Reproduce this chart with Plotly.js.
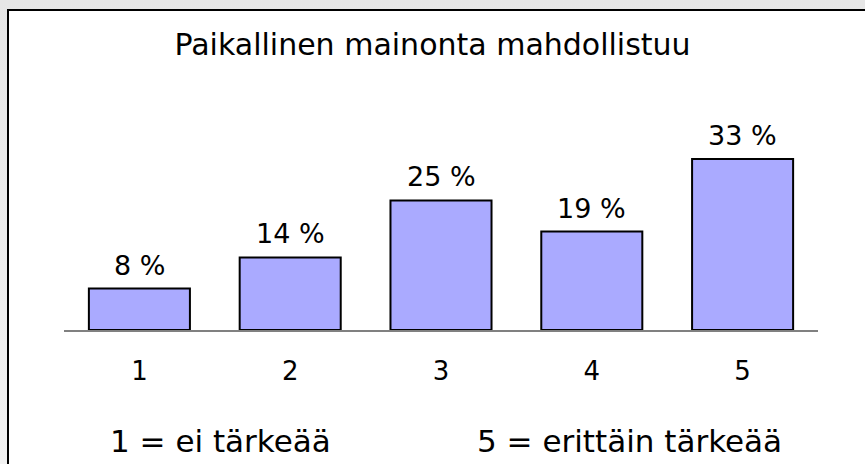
<!DOCTYPE html>
<html>
<head>
<meta charset="utf-8">
<script src="https://cdn.plot.ly/plotly-3.0.1.min.js"></script>
<style>
  html, body { margin: 0; padding: 0; }
  body { width: 865px; height: 464px; background: linear-gradient(#e6e6e6, #f2f2f2); position: relative; overflow: hidden; }
  #frame { position: absolute; left: 7px; top: 9px; width: 856px; height: 453px; border-top: 2px solid #000; border-left: 2px solid #000; background: #fff; }
  #chart { width: 856px; height: 453px; }
</style>
</head>
<body>
<div id="frame"><div id="chart"></div></div>
<script>
const categories = ['1', '2', '3', '4', '5'];
const values = [8, 14, 25, 19, 33];
const valueLabels = values.map(v => v + ' %');
const titleText = 'Paikallinen mainonta mahdollistuu';
const footerLeft = '1 = ei tärkeää';
const footerRight = '5 = erittäin tärkeää';

const font = 'DejaVu Sans, Verdana, sans-serif';

const trace = {
  type: 'bar',
  x: categories,
  y: values,
  width: 0.67,
  marker: { color: '#aaaaff', line: { color: '#000', width: 2 } },
  hoverinfo: 'none'
};

const annotations = categories.map((c, i) => ({
  x: i, y: values[i], xref: 'x', yref: 'y',
  text: valueLabels[i], showarrow: false,
  yanchor: 'bottom', yshift: 6,
  font: { family: font, size: 27, color: '#000' }
}));
annotations.push({
  xref: 'paper', yref: 'paper', x: 0.207, y: -0.555,
  xanchor: 'center', yanchor: 'middle', showarrow: false,
  text: footerLeft, font: { family: font, size: 31, color: '#000' }
});
annotations.push({
  xref: 'paper', yref: 'paper', x: 0.75, y: -0.555,
  xanchor: 'center', yanchor: 'middle', showarrow: false,
  text: footerRight, font: { family: font, size: 31, color: '#000' }
});

const layout = {
  width: 856, height: 453,
  margin: { l: 55, r: 47, t: 119, b: 134 },
  paper_bgcolor: '#fff', plot_bgcolor: '#fff',
  showlegend: false,
  title: {
    text: titleText, xref: 'container', x: 0.4948, xanchor: 'center',
    yref: 'container', y: 0.925, yanchor: 'middle',
    font: { family: font, size: 30, color: '#000' }
  },
  xaxis: {
    type: 'category', range: [-0.5, 4.5],
    showline: true, linecolor: '#808080', linewidth: 1.5,
    showgrid: false, zeroline: false,
    ticks: 'outside', ticklen: 17, tickcolor: 'rgba(0,0,0,0)',
    tickfont: { family: font, size: 26, color: '#000' }
  },
  yaxis: {
    range: [0, 38.6], visible: false, showgrid: false, zeroline: false
  },
  annotations: annotations
};

Plotly.newPlot('chart', [trace], layout, { displayModeBar: false, staticPlot: true });
</script>
</body>
</html>
